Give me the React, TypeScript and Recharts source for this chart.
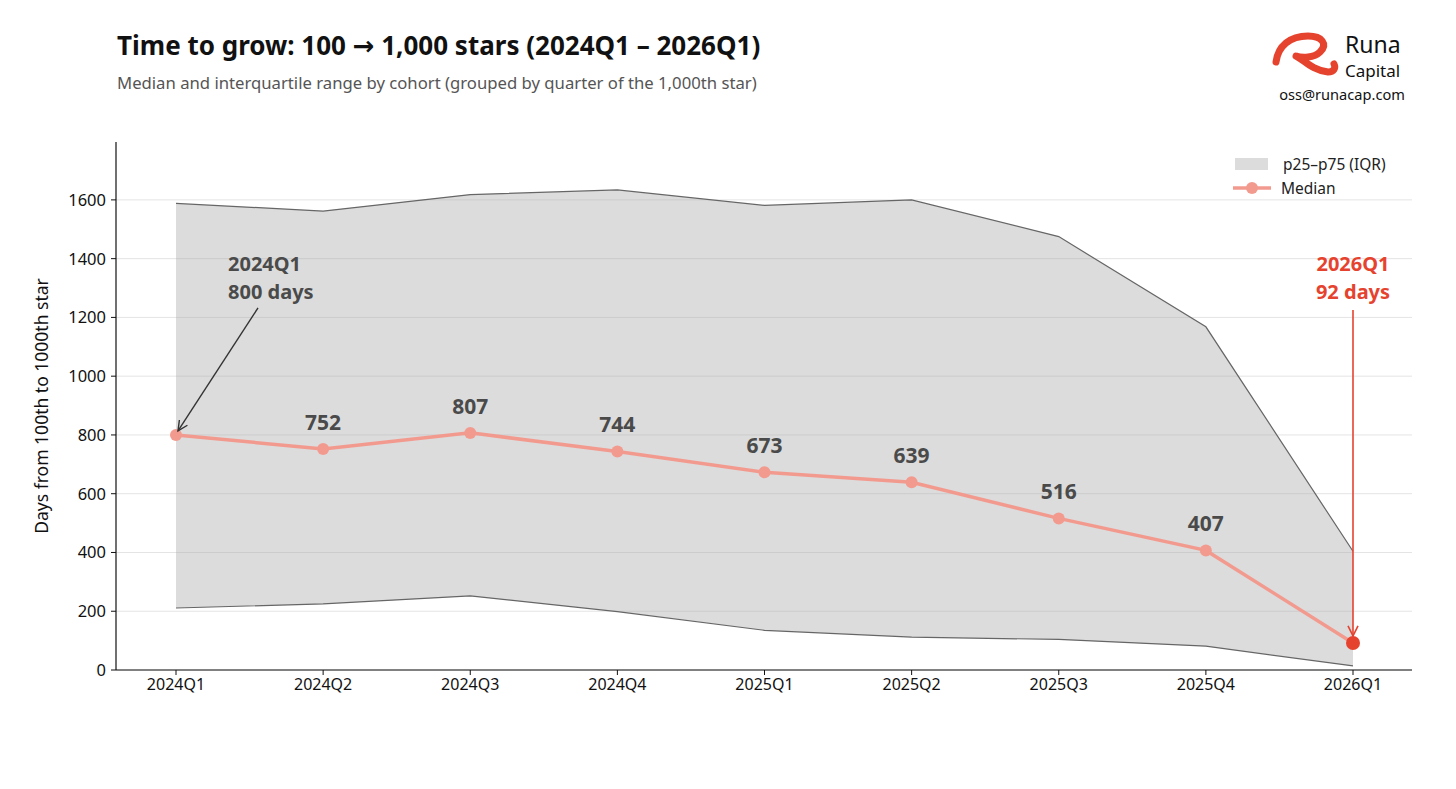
import React from "react";
import {
  ComposedChart,
  Area,
  Line,
  XAxis,
  YAxis,
  CartesianGrid,
  ReferenceDot,
} from "recharts";

const quarters = ["2024Q1", "2024Q2", "2024Q3", "2024Q4", "2025Q1", "2025Q2", "2025Q3", "2025Q4", "2026Q1"];
const median = [800, 752, 807, 744, 673, 639, 516, 407, 92];
const p25 = [211, 225, 252, 199, 135, 112, 104, 81, 14];
const p75 = [1588, 1562, 1618, 1634, 1581, 1600, 1475, 1168, 404];
const yTicks = [0, 200, 400, 600, 800, 1000, 1200, 1400, 1600];

const data = quarters.map((q, i) => ({
  q,
  median: median[i],
  iqr: [p25[i], p75[i]],
}));

const FONT = "'Noto Sans', 'DejaVu Sans', sans-serif";
const SALMON = "#f39a8f";
const RED = "#e6432f";
const DARK = "#4a4a4a";

const MedianDot = (props: any) => {
  const { cx, cy, index } = props;
  if (index === quarters.length - 1) {
    return <circle key={`d${index}`} cx={cx} cy={cy} r={7} fill={RED} />;
  }
  return <circle key={`d${index}`} cx={cx} cy={cy} r={6} fill={SALMON} />;
};

const MedianLabel = (props: any) => {
  const { x, y, index, value } = props;
  if (index === 0 || index === quarters.length - 1) return null;
  return (
    <text
      x={x}
      y={y - 19}
      textAnchor="middle"
      fontFamily={FONT}
      fontWeight={700}
      fontSize={21}
      fill={DARK}
    >
      {value}
    </text>
  );
};

const ANN_SIZE = 20;

const FirstAnnotation = (props: any) => {
  const { cx, cy } = props;
  const x1 = cx + 82;
  const y1 = cy - 127;
  const x2 = cx + 2;
  const y2 = cy - 4;
  const ang = Math.atan2(y2 - y1, x2 - x1);
  const L = 11;
  const a1 = ang + Math.PI - 0.45;
  const a2 = ang + Math.PI + 0.45;
  return (
    <g>
      <line x1={x1} y1={y1} x2={x2} y2={y2} stroke="#333" strokeWidth={1.4} />
      <polyline
        points={`${x2 + L * Math.cos(a1)},${y2 + L * Math.sin(a1)} ${x2},${y2} ${x2 + L * Math.cos(a2)},${y2 + L * Math.sin(a2)}`}
        fill="none"
        stroke="#333"
        strokeWidth={1.4}
      />
      <text x={cx + 52} y={cy - 164} fontFamily={FONT} fontWeight={700} fontSize={ANN_SIZE} fill={DARK}>
        2024Q1
      </text>
      <text x={cx + 52} y={cy - 136} fontFamily={FONT} fontWeight={700} fontSize={ANN_SIZE} fill={DARK}>
        800 days
      </text>
    </g>
  );
};

const LastAnnotation = (props: any) => {
  const { cx, cy } = props;
  const y1 = cy - 333;
  const y2 = cy - 7;
  return (
    <g>
      <line x1={cx} y1={y1} x2={cx} y2={y2} stroke={RED} strokeWidth={1.6} />
      <polyline
        points={`${cx - 5},${y2 - 10} ${cx},${y2} ${cx + 5},${y2 - 10}`}
        fill="none"
        stroke={RED}
        strokeWidth={1.6}
      />
      <text x={cx} y={cy - 372} textAnchor="middle" fontFamily={FONT} fontWeight={700} fontSize={ANN_SIZE} fill={RED}>
        2026Q1
      </text>
      <text x={cx} y={cy - 344} textAnchor="middle" fontFamily={FONT} fontWeight={700} fontSize={ANN_SIZE} fill={RED}>
        92 days
      </text>
    </g>
  );
};

const LegendBox = () => (
  <div
    style={{
      position: "absolute",
      left: 1235,
      top: 152,
      fontFamily: FONT,
      fontSize: 15.5,
      color: "#222",
      lineHeight: "24px",
      whiteSpace: "nowrap",
    }}
  >
    <div style={{ display: "flex", alignItems: "center" }}>
      <span style={{ display: "inline-block", width: 33, height: 12, background: "#dcdcdc", marginRight: 15 }} />
      <span>p25–p75 (IQR)</span>
    </div>
    <div style={{ display: "flex", alignItems: "center" }}>
      <svg width={38} height={14} style={{ marginRight: 10, marginLeft: -2 }}>
        <line x1={0} y1={7} x2={38} y2={7} stroke={SALMON} strokeWidth={3.5} />
        <circle cx={19} cy={7} r={6} fill={SALMON} />
      </svg>
      <span>Median</span>
    </div>
  </div>
);

const Logo = () => (
  <svg width={150} height={64} style={{ position: "absolute", left: 1268, top: 26 }}>
    <path
      d="M8 36 C 10 20, 22 10, 40 10 C 54 10, 60 18, 52 26 C 46 32, 34 32, 28 30 C 36 34, 44 44, 60 46 C 66 46, 68 42, 66 38"
      fill="none"
      stroke={RED}
      strokeWidth={7}
      strokeLinecap="round"
      strokeLinejoin="round"
    />
    <text x={77} y={27} fontFamily={FONT} fontSize={23} fill="#111">
      Runa
    </text>
    <text x={77} y={51} fontFamily={FONT} fontSize={17} fill="#111">
      Capital
    </text>
  </svg>
);

export default function App() {
  return (
    <div style={{ position: "absolute", left: 0, top: 0, width: 1456, height: 789, background: "#fff" }}>
      <div
        style={{
          position: "absolute",
          left: 117,
          top: 28,
          fontFamily: FONT,
          fontWeight: 700,
          fontSize: 26,
          lineHeight: 1.362,
          color: "#111",
          whiteSpace: "nowrap",
        }}
      >
        Time to grow: 100 → 1,000 stars (2024Q1 – 2026Q1)
      </div>
      <div
        style={{
          position: "absolute",
          left: 117,
          top: 72,
          fontFamily: FONT,
          fontSize: 16.7,
          lineHeight: 1.362,
          color: "#555",
          whiteSpace: "nowrap",
        }}
      >
        Median and interquartile range by cohort (grouped by quarter of the 1,000th star)
      </div>
      <Logo />
      <div
        style={{
          position: "absolute",
          left: 1268,
          top: 85,
          width: 148,
          textAlign: "center",
          fontFamily: FONT,
          fontSize: 14.6,
          lineHeight: 1.362,
          color: "#111",
        }}
      >
        oss@runacap.com
      </div>
      <ComposedChart
        width={1456}
        height={789}
        data={data}
        margin={{ top: 142, right: 44, bottom: 89, left: 56 }}
        style={{ position: "absolute", left: 0, top: 0 }}
      >
        <CartesianGrid
          vertical={false}
          horizontalValues={yTicks}
          stroke="#e4e4e4"
          strokeWidth={1}
        />
        <XAxis
          dataKey="q"
          scale="point"
          padding={{ left: 60, right: 59 }}
          height={30}
          tick={{ fontFamily: FONT, fontSize: 16, fill: "#111" }}
          tickSize={5}
          tickMargin={4}
          axisLine={{ stroke: "#111", strokeWidth: 1.2 }}
          tickLine={{ stroke: "#111" }}
        />
        <YAxis
          width={60}
          domain={[0, 1797]}
          ticks={yTicks}
          interval={0}
          allowDataOverflow
          tick={{ fontFamily: FONT, fontSize: 16.5, fill: "#111" }}
          tickSize={5}
          tickMargin={5}
          axisLine={{ stroke: "#111", strokeWidth: 1.2 }}
          tickLine={{ stroke: "#111" }}
          label={{
            value: "Days from 100th to 1000th star",
            angle: -90,
            position: "insideLeft",
            offset: -14,
            style: { fontFamily: FONT, fontSize: 17.5, fill: "#111", textAnchor: "middle" },
          }}
        />
        <Area
          dataKey="iqr"
          type="linear"
          fill="#a8a8a8"
          fillOpacity={0.4}
          stroke="#666"
          strokeWidth={1.2}
          isAnimationActive={false}
          legendType="none"
        />
        <Line
          dataKey="median"
          type="linear"
          stroke={SALMON}
          strokeWidth={3.5}
          dot={MedianDot}
          activeDot={false}
          label={MedianLabel}
          isAnimationActive={false}
        />
        <ReferenceDot x={quarters[0]} y={median[0]} shape={FirstAnnotation} ifOverflow="visible" />
        <ReferenceDot
          x={quarters[quarters.length - 1]}
          y={median[median.length - 1]}
          shape={LastAnnotation}
          ifOverflow="visible"
        />
      </ComposedChart>
      <LegendBox />
    </div>
  );
}
